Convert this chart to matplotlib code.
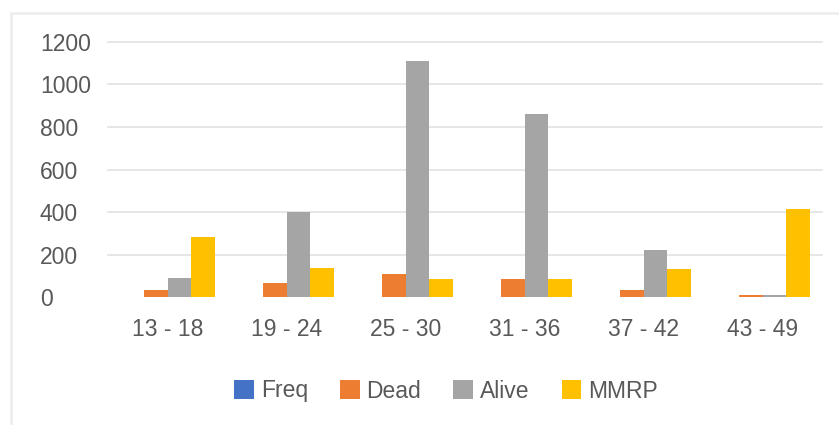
import numpy as np
import matplotlib
matplotlib.use('Agg')
import matplotlib.pyplot as plt
from matplotlib.patches import Rectangle, Patch

# values
age_groups = ['13 - 18', '19 - 24', '25 - 30', '31 - 36', '37 - 42', '43 - 49']
freq = [0, 0, 0, 0, 0, 0]
dead = [34, 67, 111, 86, 33, 11]
alive = [92, 401, 1111, 862, 224, 11]
mmrp = [281, 139, 86, 86, 133, 416]

series_names = ['Freq', 'Dead', 'Alive', 'MMRP']
series_colors = ['#4472C4', '#ED7D31', '#A5A5A5', '#FFC000']
y_ticks = [0, 200, 400, 600, 800, 1000, 1200]

plt.rcParams['font.family'] = ['Liberation Sans', 'DejaVu Sans']
text_color = '#595959'

fig = plt.figure(figsize=(8.39, 4.25), dpi=100)
ax = fig.add_axes([108 / 839, 127.7 / 425, 714 / 839, 255.5 / 425])

x = np.arange(len(age_groups))
width = 0.2
all_series = [freq, dead, alive, mmrp]
for i, (vals, name, color) in enumerate(zip(all_series, series_names, series_colors)):
    ax.bar(x + (i - 1.5) * width, vals, width, color=color, label=name, zorder=3)

ax.set_xlim(-0.5, len(age_groups) - 0.5)
ax.set_ylim(0, 1200)
ax.set_yticks(y_ticks)
ax.set_yticklabels([str(t) for t in y_ticks])
ax.set_xticks(x)
ax.set_xticklabels(age_groups)

for spine in ax.spines.values():
    spine.set_visible(False)
ax.tick_params(axis='both', length=0, labelsize=16.5, labelcolor=text_color)
ax.tick_params(axis='y', pad=49)
ax.tick_params(axis='x', pad=15)
for lab in ax.get_yticklabels():
    lab.set_horizontalalignment('left')

ax.yaxis.grid(True, color='#e2e2e2', linewidth=1.2, zorder=0)
ax.set_axisbelow(True)
for gl in ax.get_ygridlines():
    gl.set_clip_on(False)
ax.get_ygridlines()[0].set_visible(False)

handles = [Patch(facecolor=c, label=n) for n, c in zip(series_names, series_colors)]
fig.legend(handles=handles, loc='center', ncol=4, frameon=False,
           bbox_to_anchor=(446 / 839, 1 - 391 / 425), fontsize=16.5,
           labelcolor=text_color, handlelength=0.86, handleheight=0.86,
           handletextpad=0.3, columnspacing=1.4)

# light chart-area border
fig.patches.append(Rectangle((11.3 / 839, -0.1), 1.2, 1 - 13.3 / 425 + 0.1,
                             transform=fig.transFigure, fill=False,
                             edgecolor='#ececec', linewidth=1.8))

fig.savefig('out.png', dpi=100)
